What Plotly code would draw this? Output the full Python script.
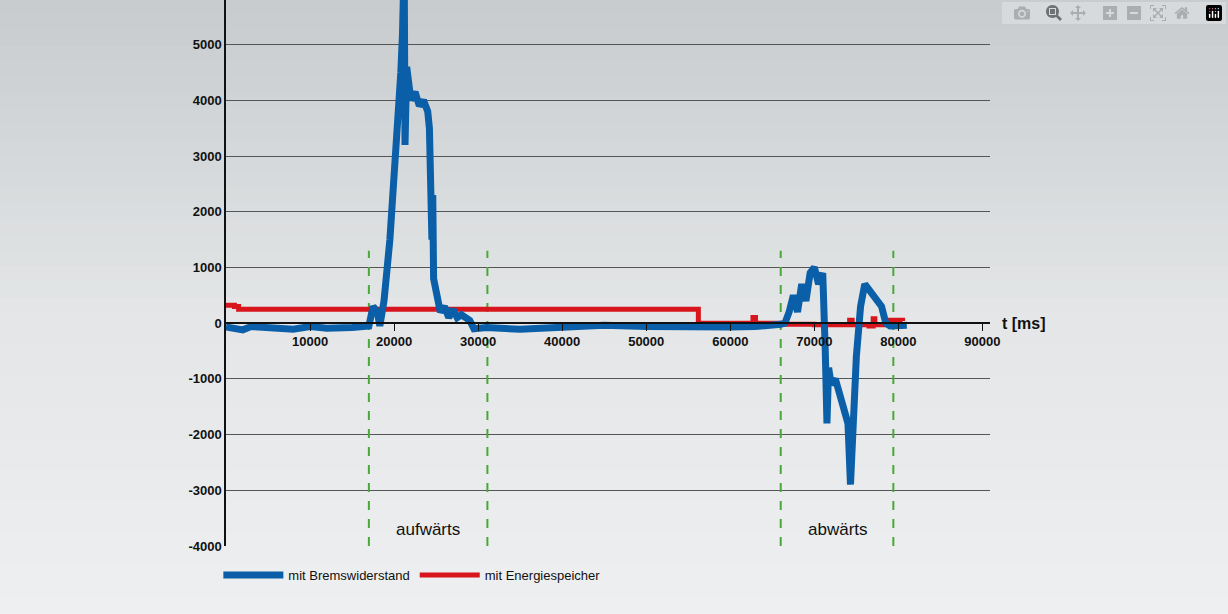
import plotly.graph_objects as go

# measured series (t in ms, value)
t_brems = [0, 2000, 3000, 5000, 8000, 10000, 12000, 15000, 17000, 17500, 18000, 18300, 18800, 19500, 20000,
           20500, 20800, 21000, 21200, 21300, 21500, 22000, 22500, 23000, 23500, 24000, 24200, 24500, 24600,
           24700, 25000, 25500, 26000, 26500, 27000, 27500, 28000, 29000, 29500, 31000, 35000, 40000, 45000,
           50000, 56000, 60000, 63000, 65000, 66000, 66500, 67000, 67500, 68000, 68500, 69000, 69500,
           70000, 70500, 71000, 71300, 71500, 71700, 72000, 72500, 73000, 73500, 74000, 74300, 74600,
           75000, 75500, 76000, 76500, 77000, 78000, 78500, 79000, 81000]
p_brems = [-70, -120, -60, -80, -110, -60, -90, -80, -50, 300, 200, -50, 400, 1500, 2500,
           3500, 4500, 5200, 6500, 3200, 4600, 4000, 4150, 3900, 4000, 3800, 3500, 1500, 2300,
           800, 600, 200, 300, 100, 250, 100, 150, 50, -100, -80, -110, -70, -40,
           -60, -80, -70, -60, -50, -20, 0, 200, 500, 200, 700, 400, 900,
           1000, 700, 900, -500, -1800, -800, -1100, -1000, -1300, -1500, -1800, -2900, -1700,
           -600, 300, 700, 600, 500, 300, 0, -50, -40]
t_energie = [0, 1000, 1500, 20000, 40000, 56000, 56200, 62500, 62700, 63000, 66000, 70000, 74000,
             74200, 74500, 76500, 77000, 77200, 79000, 80500]
p_energie = [320, 300, 250, 250, 250, 250, 0, -20, 100, 0, -20, -30, -30,
             50, -30, -50, 80, -30, 50, 40]
phase_t = [17000, 31100, 66000, 79400]
phase_labels = ["aufwärts", "abwärts"]
phase_label_t = [24000, 72800]
x_ticks = [10000, 20000, 30000, 40000, 50000, 60000, 70000, 80000, 90000]
y_ticks = [-4000, -3000, -2000, -1000, 0, 1000, 2000, 3000, 4000, 5000]

fig = go.Figure()
for t in phase_t:
    fig.add_trace(go.Scatter(x=[t, t], y=[-4000, 1300], mode="lines", showlegend=False,
                             line=dict(color="#4aa83a", width=2, dash="dash"), hoverinfo="skip"))
fig.add_trace(go.Scatter(x=t_energie, y=p_energie, mode="lines", name="mit Energiespeicher",
                         line=dict(color="#d8141c", width=5, shape="hv")))
fig.add_trace(go.Scatter(x=t_brems, y=p_brems, mode="lines", name="mit Bremswiderstand",
                         line=dict(color="#0a5fa8", width=7)))

# gradient-ish background
shapes = []
n = 40
top, mid, bot = (200, 204, 207), (228, 230, 231), (238, 240, 241)
for i in range(n):
    f = i / (n - 1)
    if f < 0.5:
        c = [int(top[k] + (mid[k] - top[k]) * f * 2) for k in range(3)]
    else:
        c = [int(mid[k] + (bot[k] - mid[k]) * (f - 0.5) * 2) for k in range(3)]
    y1 = 1.0 - i / n * 1.15
    shapes.append(dict(type="rect", xref="paper", yref="paper", x0=-0.5, x1=1.5,
                       y0=y1 - 1.15 / n - 0.002, y1=y1 + 0.002, line_width=0,
                       fillcolor="rgb(%d,%d,%d)" % tuple(c), layer="below"))

annotations = [dict(x=t, y=-3700, text=s, showarrow=False, font=dict(size=17, color="#111"))
               for t, s in zip(phase_label_t, phase_labels)]
annotations.append(dict(x=1.076, y=0, xref="paper", yref="y", text="<b>t [ms]</b>", showarrow=False,
                        font=dict(size=16, color="#111")))

fig.update_layout(
    width=1228, height=614,
    margin=dict(l=226, r=238, t=0, b=68),
    paper_bgcolor="#e6e8e9", plot_bgcolor="rgba(0,0,0,0)",
    font=dict(family="Liberation Sans, Arial", color="#111"),
    shapes=shapes, annotations=annotations,
    legend=dict(orientation="h", x=-0.01, y=-0.053, yanchor="middle", traceorder="reversed",
                font=dict(size=13), bgcolor="rgba(0,0,0,0)", itemwidth=60),
    xaxis=dict(range=[0, 90900], anchor="free", position=4000 / 9800, showgrid=False,
               zeroline=False, showline=True, linecolor="#111", linewidth=1.5,
               tickvals=x_ticks, ticktext=["<b>%d</b>" % v for v in x_ticks],
               ticks="outside", ticklen=7, tickcolor="#111", tickfont=dict(size=13)),
    yaxis=dict(range=[-4000, 5800], tickvals=y_ticks, ticktext=["<b>%d</b>" % v for v in y_ticks],
               showgrid=True, gridcolor="#555", gridwidth=1, zeroline=False,
               showline=True, linecolor="#111", linewidth=1.5, ticks="", tickfont=dict(size=13)),
)
fig.write_html("out.html", post_script="document.body.style.margin='0';")
